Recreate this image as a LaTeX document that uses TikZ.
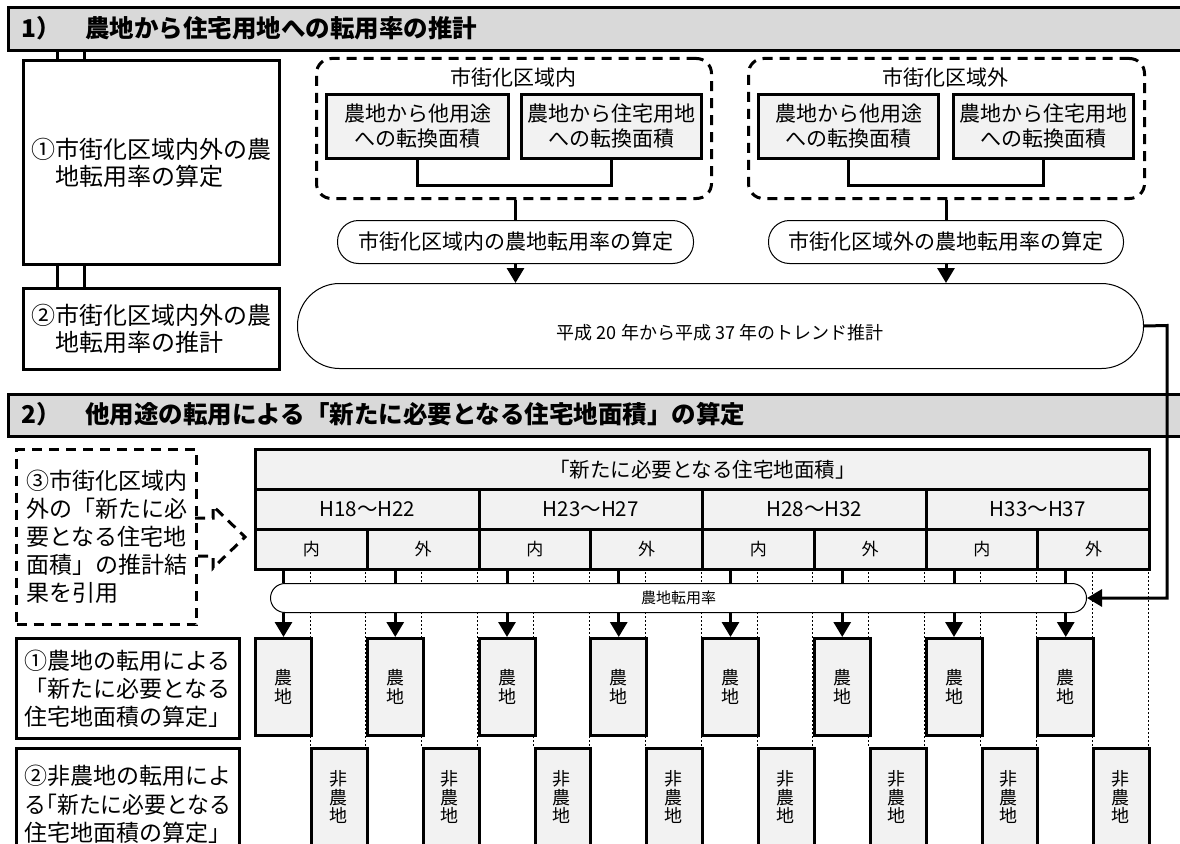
\documentclass[tikz,border=0pt]{standalone}
\usepackage{fontspec}
\setmainfont{Noto Sans CJK JP}
\usetikzlibrary{arrows.meta}
\definecolor{hgray}{HTML}{D9D9D9}
\definecolor{lgray}{HTML}{F2F2F2}
\newcommand{\fsz}[2]{\fontsize{#1pt}{#2pt}\selectfont}
\begin{document}
\begin{tikzpicture}[x=1pt,y=-1pt,
  thk/.style={line width=3pt},
  hdr/.style={draw, line width=3pt, fill=hgray, rectangle, inner sep=0pt, anchor=north west},
  wbox/.style={draw, line width=3pt, fill=white, inner sep=0pt, anchor=north west},
  gbox/.style={draw, line width=3pt, fill=lgray, inner sep=0pt, anchor=north west},
  dbox/.style={draw, line width=3pt, dash pattern=on 10pt off 7pt, rounded corners=15pt, anchor=north west, inner sep=0pt},
  pill/.style={draw, line width=1pt, fill=white, inner sep=0pt, anchor=north west},
  arr/.style={line width=3pt, -{Triangle[width=17pt,length=15pt]}},
  dotl/.style={line width=1pt, dash pattern=on 2pt off 2pt},
  dsh/.style={line width=3pt, dash pattern=on 10pt off 7pt}
]
\useasboundingbox (0,0) rectangle (1180,843);
\clip (0,0) rectangle (1180,843);
\fill[white] (0,0) rectangle (1180,843);

% ---------- Section 1 ----------
\node[hdr, minimum width=1190pt, minimum height=43pt] (h1) at (7,6) {};
\node[anchor=west, font=\bfseries\fsz{24.5}{28}] (h1t) at (18,28) {1）　農地から住宅用地への転用率の推計};

\node[wbox, minimum width=256pt, minimum height=204pt, align=left, font=\fsz{24}{27}] (b1) at (22,59) {①市街化区域内外の農\\　地転用率の算定};
\node[wbox, minimum width=256pt, minimum height=81pt, align=left, font=\fsz{24}{27}] (b2) at (22,287) {②市街化区域内外の農\\　地転用率の推計};
\draw[thk] ([xshift=35pt]b1.north west) -- ([xshift=35pt]b1.north west |- h1.south);
\draw[thk] ([xshift=62pt]b1.north west) -- ([xshift=62pt]b1.north west |- h1.south);
\draw[thk] ([xshift=35pt]b1.south west) -- ([xshift=35pt]b2.north west);
\draw[thk] ([xshift=62pt]b1.south west) -- ([xshift=62pt]b2.north west);

\node[dbox, minimum width=395pt, minimum height=140pt] (d1) at (315,57) {};
\node[dbox, minimum width=396pt, minimum height=140pt] (d2) at (747,57) {};
\node[font=\fsz{21}{25}] (d1l) at (513,77) {市街化区域内};
\node[font=\fsz{21}{25}] (d2l) at (945,77) {市街化区域外};

\node[gbox, minimum width=182pt, minimum height=64pt, align=center, font=\fsz{21}{25}] (a1) at (325,93) {農地から他用途\\への転換面積};
\node[gbox, minimum width=180pt, minimum height=64pt, align=center, font=\fsz{21}{25}] (a2) at (520,93) {農地から住宅用地\\への転換面積};
\node[gbox, minimum width=180pt, minimum height=64pt, align=center, font=\fsz{21}{25}] (c1) at (757,93) {農地から他用途\\への転換面積};
\node[gbox, minimum width=180pt, minimum height=64pt, align=center, font=\fsz{21}{25}] (c2) at (952,93) {農地から住宅用地\\への転換面積};
\draw[thk] (a1.south) -- ++(0,25) -| (a2.south);
\draw[thk] (c1.south) -- ++(0,25) -| (c2.south);

\node[pill, rounded corners=21pt, minimum width=356pt, minimum height=43pt, font=\fsz{21}{25}] (p1) at (337,220) {市街化区域内の農地転用率の算定};
\node[pill, rounded corners=21pt, minimum width=355pt, minimum height=43pt, font=\fsz{21}{25}] (p2) at (768,220) {市街化区域外の農地転用率の算定};
\draw[thk] (p1.north |- d1.south) -- (p1.north);
\draw[thk] (p2.north |- d2.south) -- (p2.north);

\node[pill, rounded corners=42pt, minimum width=846pt, minimum height=85pt] (B) at (297,283) {};
\node[font=\fsz{18}{21}] (Bt) at (720,333) {平成 20 年から平成 37 年のトレンド推計};
\draw[arr] (p1.south) -- (p1.south |- B.north);
\draw[arr] (p2.south) -- (p2.south |- B.north);

% ---------- Section 2 ----------
\node[hdr, minimum width=1190pt, minimum height=42pt] (h2) at (7,393) {};
\node[anchor=west, font=\bfseries\fsz{24.5}{28}] (h2t) at (18,414) {2）　他用途の転用による「新たに必要となる住宅地面積」の算定};

% dotted guide lines
\foreach \j in {0,...,7} {
  \draw[dotl] (310+111.75*\j,568) -- (310+111.75*\j,747);
}
\foreach \j in {1,...,8} {
  \draw[dotl] (254+111.75*\j,568) -- (254+111.75*\j,747);
}

\node[gbox, minimum width=894pt, minimum height=40pt, font=\fsz{20.5}{24}] (t0) at (254,448) {「新たに必要となる住宅地面積」};
\foreach \i/\lab in {0/H18～H22,1/H23～H27,2/H28～H32,3/H33～H37} {
  \node[gbox, minimum width=223.5pt, minimum height=40pt, font=\fsz{20.5}{24}] (P\i) at (254+223.5*\i,488) {\lab};
}
\foreach \j/\lab in {0/内,1/外,2/内,3/外,4/内,5/外,6/内,7/外} {
  \node[gbox, minimum width=111.75pt, minimum height=40pt, font=\fsz{17}{19}] (S\j) at (254+111.75*\j,528) {\lab};
}

\node[pill, rounded corners=14.5pt, minimum width=816pt, minimum height=29pt, font=\fsz{15}{17}] (R) at (270,583) {農地転用率};

\foreach \j in {0,...,7} {
  \node[gbox, minimum width=56pt, minimum height=97pt, align=center, font=\fsz{18}{19}] (N\j) at (254+111.75*\j,637) {農\\地};
  \node[gbox, minimum width=55.75pt, minimum height=110pt] (M\j) at (310+111.75*\j,747) {};
  \node[align=center, font=\fsz{18}{18.5}] (Mt\j) at (338+111.75*\j,797) {非\\農\\地};
  \draw[thk] (N\j.north |- S\j.south) -- (N\j.north |- R.north);
  \draw[arr] (N\j.north |- R.south) -- (N\j.north);
}

\coordinate (rt) at (1167,325.5);
\draw[arr] (B.east) -- (rt) -- (rt |- R.east) -- (R.east);

% left notes
\node[draw, dsh, anchor=north west, inner sep=0pt, minimum width=180pt, minimum height=175pt, align=left, font=\fsz{23}{28}] (q) at (15,448) {③市街化区域内\\外の「新たに必\\要となる住宅地\\面積」の推計結\\果を引用};
\draw[dsh] (195,518) -- (213,518) -- (213,506) -- (245,537) -- (213,568) -- (213,556) -- (195,556);

\node[wbox, minimum width=223pt, minimum height=100pt, align=left, font=\fsz{23}{28}] (e1) at (15,637) {①農地の転用による\\「新たに必要となる\\住宅地面積の算定」};
\node[wbox, minimum width=223pt, minimum height=112pt, align=left, font=\fsz{23}{28.5}] (e2) at (15,747) {②非農地の転用によ\\\scalebox{0.95}[1]{る\kern-11.5pt「新たに必要となる}\\住宅地面積の算定」};
\end{tikzpicture}
\end{document}
